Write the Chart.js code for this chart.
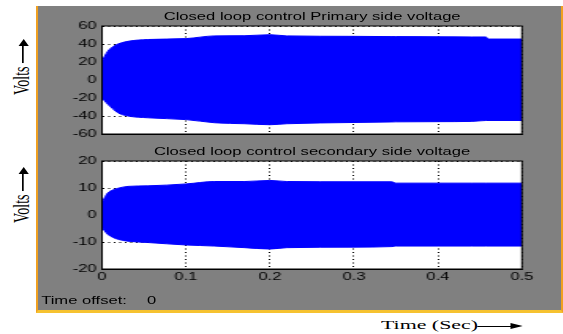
<!DOCTYPE html>
<html>
<head>
<meta charset="utf-8">
<script src="https://cdn.jsdelivr.net/npm/chart.js@4.4.0/dist/chart.umd.min.js"></script>
<style>
  html, body { margin: 0; padding: 0; background: #fff; }
  body { width: 563px; height: 334px; position: relative; overflow: hidden; font-family: "Liberation Sans", Arial, sans-serif; }
  #panel { position: absolute; left: 36px; top: 6px; width: 523px; height: 304px; background: #808080;
           border-left: 2px solid #f0a020; border-right: 2px solid #f0a020; border-bottom: 3px solid #f6c230; }
  #inner { position: absolute; left: 0; top: 0; width: 331px; height: 304px; transform: scaleX(1.58); transform-origin: 0 0; }
  #inner canvas { position: absolute; left: 0; }
  .title { position: absolute; left: 40.5px; width: 266px; text-align: center; font-size: 10.5px; line-height: 12px; color: #000; white-space: nowrap; }
  .small { position: absolute; font-size: 10.5px; line-height: 12px; color: #000; white-space: nowrap; }
  .volts { position: absolute; left: 22px; font-family: "Liberation Serif", "Times New Roman", serif; font-size: 14px; line-height: 16px;
           white-space: nowrap; transform: translate(-50%, -50%) rotate(-90deg) scaleY(1.7); }
  .arrow { display: inline-block; position: relative; height: 1px; background: #000; vertical-align: middle; }
  .arrow::after { content: ""; position: absolute; top: -2.5px; right: -6px; border-left: 7px solid #000;
                  border-top: 3px solid transparent; border-bottom: 3px solid transparent; }
  #timeLbl { position: absolute; left: 381px; top: 317px; font-family: "Liberation Serif", "Times New Roman", serif; font-size: 12.5px;
             line-height: 16px; white-space: nowrap; transform: scaleX(1.75); transform-origin: 0 50%; }
</style>
</head>
<body>
<div id="panel">
  <div id="inner">
    <canvas id="priChart" width="331" height="140" style="top:0"></canvas>
    <canvas id="secChart" width="331" height="164" style="top:140px"></canvas>
    <div class="title" style="top:4px">Closed loop control Primary side voltage</div>
    <div class="title" style="top:139px">Closed loop control secondary side voltage</div>
    <div class="small" style="left:2px; top:288px">Time offset:</div>
    <div class="small" style="left:69px; top:288px">0</div>
  </div>
</div>
<div class="volts" style="top:70px">Volts <span class="arrow" style="width:18px"></span></div>
<div class="volts" style="top:198px">Volts <span class="arrow" style="width:18px"></span></div>
<div id="timeLbl">Time (Sec)<span class="arrow" style="width:20px; margin-left:0"></span></div>

<script>
// time samples (s) along the envelope of each waveform
const timePts = [0, 0.003, 0.007, 0.013, 0.019, 0.031, 0.055, 0.1, 0.134, 0.17, 0.2, 0.22, 0.3, 0.345, 0.35, 0.4, 0.44, 0.457, 0.46, 0.5];

// primary side voltage envelope (V)
const priUpper = [20, 26, 32, 37, 40, 43, 45, 46, 49, 49.2, 50.3, 49, 48.5, 48.2, 48.2, 48, 47.8, 47.8, 45.5, 45.5];
const priLower = [-20, -23, -27, -32, -36.5, -40, -42, -44, -47.5, -48.6, -49.7, -48.6, -47.2, -46.6, -46.5, -46.3, -46, -45, -45, -45];

// secondary side voltage envelope (V)
const secUpper = [4.5, 6.3, 8.2, 9.3, 9.9, 10.6, 10.8, 11.5, 12.4, 12.4, 12.8, 12.4, 12.3, 12.3, 11.8, 11.8, 11.8, 11.8, 11.8, 11.8];
const secLower = [-4.5, -5.8, -7.2, -8.3, -9, -9.7, -10.2, -11.1, -11.5, -12.1, -12.6, -12.1, -11.9, -11.7, -11.5, -11.5, -11.5, -11.5, -11.5, -11.5];

const xTickLabels = ['0', '0.1', '0.2', '0.3', '0.4', '0.5'];
const priTickLabels = ['-60', '-40', '-20', '0', '20', '40', '60'];
const secTickLabels = ['-20', '-10', '0', '10', '20'];

const BLUE = '#0000ff';
const FONT = { family: '"Liberation Sans", Arial, sans-serif', size: 10.5 };

// white plot background + closed black box like the scope window
const frame = {
  id: 'frame',
  beforeDraw(c){
    const a = c.chartArea, ctx = c.ctx;
    ctx.save();
    ctx.fillStyle = '#fff';
    ctx.fillRect(a.left, a.top, a.right - a.left, a.bottom - a.top);
    ctx.restore();
  },
  afterDatasetsDraw(c){
    const a = c.chartArea, ctx = c.ctx;
    ctx.save();
    ctx.strokeStyle = '#000';
    ctx.lineWidth = 1;
    ctx.strokeRect(a.left, a.top, a.right - a.left, a.bottom - a.top);
    ctx.restore();
  }
};

function pts(ys){ return timePts.map((t, i) => ({ x: t, y: ys[i] })); }

function makeChart(id, upper, lower, yMin, yMax, yStep, yLabels, showX, pad){
  return new Chart(document.getElementById(id).getContext('2d'), {
    type: 'line',
    data: {
      datasets: [
        { data: pts(lower), borderColor: BLUE, borderWidth: 1, pointRadius: 0, fill: false, cubicInterpolationMode: 'monotone' },
        { data: pts(upper), borderColor: BLUE, borderWidth: 1, pointRadius: 0, fill: '-1', backgroundColor: BLUE, cubicInterpolationMode: 'monotone' }
      ]
    },
    options: {
      responsive: false,
      animation: false,
      layout: { padding: pad },
      plugins: { legend: { display: false }, tooltip: { enabled: false } },
      scales: {
        x: {
          type: 'linear', min: 0, max: 0.5,
          afterFit: s => { s.height = showX ? 41 : 0; },
          grid: { color: '#000', lineWidth: 1, drawTicks: false },
          border: { display: true, color: '#000', dash: [1, 2.5] },
          ticks: { display: showX, stepSize: 0.1, autoSkip: false, maxRotation: 0, padding: 2, color: '#000', font: FONT,
                   callback: (v, i) => xTickLabels[i] }
        },
        y: {
          min: yMin, max: yMax,
          afterFit: s => { s.width = 40.5; },
          grid: { color: '#000', lineWidth: 1, drawTicks: false },
          border: { display: true, color: '#000', dash: [1, 2.5] },
          ticks: { stepSize: yStep, autoSkip: false, padding: 3.3, color: '#000', font: FONT,
                   callback: (v, i) => yLabels[i] }
        }
      }
    },
    plugins: [frame]
  });
}

makeChart('priChart', priUpper, priLower, -60, 60, 20, priTickLabels, false, { top: 20, right: 24.7, bottom: 12, left: 0 });
makeChart('secChart', secUpper, secLower, -20, 20, 10, secTickLabels, true, { top: 15, right: 24.7, bottom: 0, left: 0 });
</script>
</body>
</html>
